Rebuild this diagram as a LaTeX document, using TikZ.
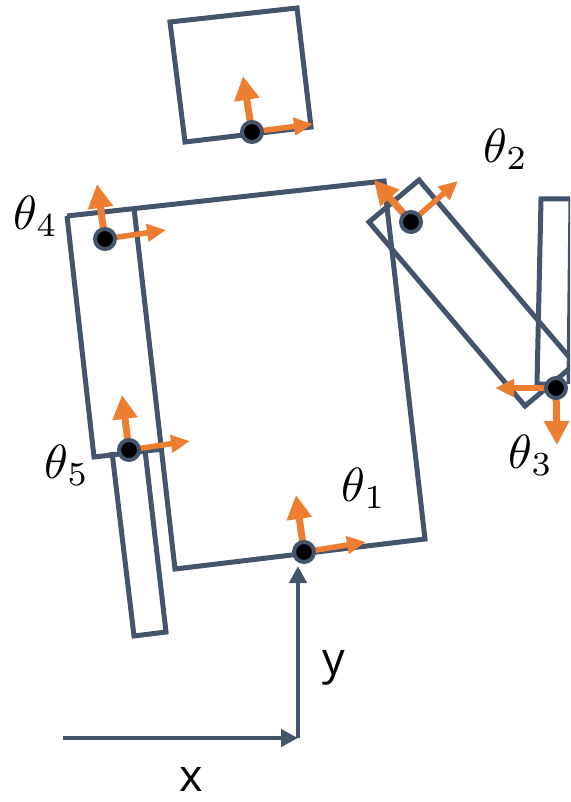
\documentclass[tikz,border=0pt]{standalone}
\usepackage{fontspec}
\setmainfont{Open Sans}
\usetikzlibrary{arrows.meta}
\definecolor{slate}{HTML}{44546A}
\definecolor{orng}{HTML}{ED7D31}
\tikzset{
  outline/.style={draw=slate,line width=5pt,line join=miter},
  joint/.style={circle,fill=black,draw=slate,line width=4pt,minimum size=20pt,inner sep=0pt},
  bigarrow/.style={draw=orng,line width=7pt,-{Triangle[length=24pt,width=24pt]}},
  smallarrow/.style={draw=orng,line width=5.5pt,-{Triangle[length=19pt,width=17pt]}},
  axis/.style={draw=slate,line width=4.5pt,-{Triangle[length=17pt,width=17pt]}},
  angle/.style={scale=4.8,inner sep=0pt},
  axislabel/.style={inner sep=0pt,font=\fontsize{45}{45}\selectfont}
}
\begin{document}
\begin{tikzpicture}[x=1pt,y=-1pt]
\useasboundingbox (0,0) rectangle (570,802);
\clip (0,0) rectangle (570,802);
% bodies
\draw[outline] (67,216) -- (384,181) -- (425,539) -- (175,569) -- (134,208);
\draw[outline] (67,216) -- (94,457) -- (163,449);
\draw[outline] (112,452) -- (134,636) -- (166,632) -- (145,450);
\draw[outline] (170,22) -- (297,8) -- (311,127) -- (185,142) -- cycle;
\draw[outline] (419,180) -- (369,222) -- (525,406) -- (575,364) -- cycle;
\draw[outline] (556,384) -- (537,384) -- (541,199) -- (575,199);
\draw[outline] (571,199) -- (569,384);
% coordinates of the frame arrows
\coordinate (t1u) at (296,495); \coordinate (t1r) at (366,542);
\coordinate (t2u) at (374,180); \coordinate (t2r) at (458,181);
\coordinate (t3l) at (495,388); \coordinate (t3d) at (557,445);
\coordinate (t4u) at (97,184);  \coordinate (t4r) at (166,230);
\coordinate (t5u) at (122,395); \coordinate (t5r) at (190,441);
\coordinate (t6u) at (243,76);  \coordinate (t6r) at (313,124);
\coordinate (j1) at (304,552); \coordinate (j2) at (411,222);
\coordinate (j3) at (556,388); \coordinate (j4) at (105,239);
\coordinate (j5) at (129,450); \coordinate (j6) at (252,132);
% arrows
\draw[bigarrow] (j1) -- (t1u); \draw[smallarrow] (j1) -- (t1r);
\draw[bigarrow] (j2) -- (t2u); \draw[smallarrow] (j2) -- (t2r);
\draw[smallarrow] (j3) -- (t3l); \draw[bigarrow] (j3) -- (t3d);
\draw[bigarrow] (j4) -- (t4u); \draw[smallarrow] (j4) -- (t4r);
\draw[bigarrow] (j5) -- (t5u); \draw[smallarrow] (j5) -- (t5r);
\draw[bigarrow] (j6) -- (t6u); \draw[smallarrow] (j6) -- (t6r);
% joints
\node[joint] (n1) at (j1) {};
\node[joint] (n2) at (j2) {};
\node[joint] (n3) at (j3) {};
\node[joint] (n4) at (j4) {};
\node[joint] (n5) at (j5) {};
\node[joint] (n6) at (j6) {};
% world axes
\coordinate (origin) at (298,738);
\coordinate (xstart) at (63,738);
\coordinate (ytip) at (298,566);
\draw[axis] (xstart) -- (origin);
\draw[axis] (origin) -- (ytip);
% labels
\node[axislabel] (lx) at (191,779) {x};
\node[axislabel] (ly) at (334,668) {y};
\node[angle] (a1) at (364,488) {$\theta_1$};
\node[angle] (a2) at (506,149) {$\theta_2$};
\node[angle] (a3) at (531,455) {$\theta_3$};
\node[angle] (a4) at (36,216) {$\theta_4$};
\node[angle] (a5) at (67,465) {$\theta_5$};
\end{tikzpicture}
\end{document}
